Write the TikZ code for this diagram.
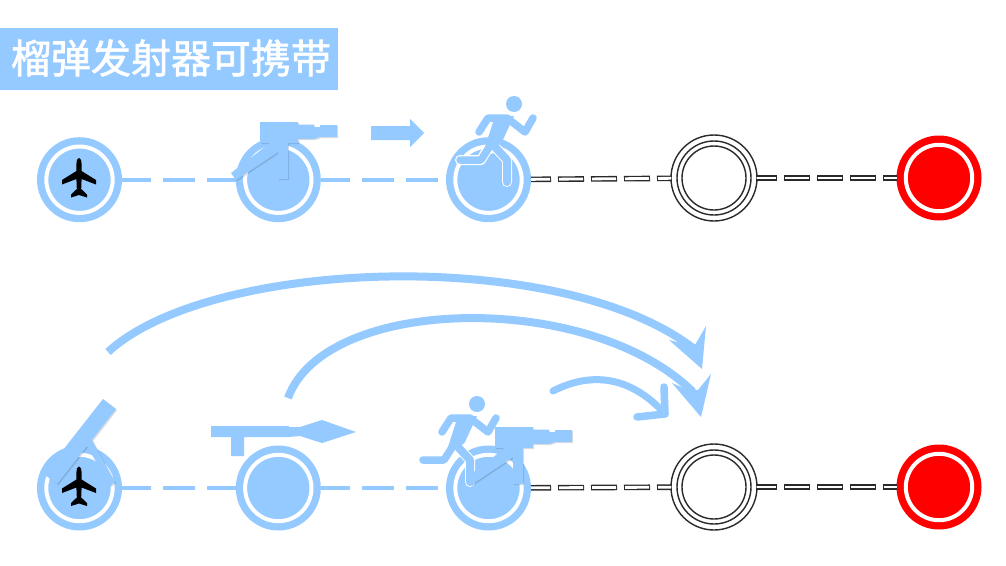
\documentclass[tikz,border=0pt]{standalone}
\usepackage{fontspec}
\newfontfamily\cjk{Noto Sans CJK SC}[FakeBold=1.6]
\definecolor{skyb}{HTML}{94CAFF}
\definecolor{ringk}{HTML}{2A2A2A}
\tikzset{
  flow/.style={circle,fill=skyb,minimum size=85pt,inner sep=0pt,outer sep=0pt},
  goal/.style={circle,fill=red,minimum size=85pt,inner sep=0pt,outer sep=0pt},
  dbl/.style={circle,draw=ringk,fill=white,line width=1.4pt,minimum size=86pt,inner sep=0pt,outer sep=0pt},
  ringw/.style={draw=white,line width=4pt},
  ringk/.style={draw=ringk,line width=1.4pt},
  bluedash/.style={skyb,line width=4pt,dash pattern=on 32pt off 12pt,dash phase=3pt},
  kout/.style={ringk,line width=5.6pt,dash pattern=on 26pt off 7pt,dash phase=6pt},
  kin/.style={white,line width=2.8pt,dash pattern=on 24pt off 9pt,dash phase=5pt},
  curve/.style={skyb,line width=8pt},
  soft/.style={black,opacity=.13},
}
\newcommand{\gunpath}{(260,122) -- (298,122) -- (298,124.5) -- (314,124.5) -- (314,127) -- (320,127) -- (320,125) -- (337,125) -- (337,137) -- (320,137) -- (314,139) -- (298,139) -- (298,143) -- (288,143) -- (288,179) -- (278,179) -- (278,152) -- (236,180) -- (231,173) -- (270,143) -- (260,143) -- cycle}
\newcommand{\mortarpath}{(103,399) -- (116,409) -- (92,440) -- (115,482) -- (110,486) -- (87,446) -- (57,484) -- (44,474) -- (63,450) -- cycle}
\newcommand{\planeicon}[1]{\fill[black,shift={(#1)}] (0,-22) .. controls (2,-22) and (2.6,-19) .. (2.6,-16) -- (2.6,-9) -- (17,0) -- (17,4.5) -- (2.6,-1) -- (2.2,9) -- (8,14.5) -- (8,17.5) -- (0,15) -- (-8,17.5) -- (-8,14.5) -- (-2.2,9) -- (-2.6,-1) -- (-17,4.5) -- (-17,0) -- (-2.6,-9) -- (-2.6,-16) .. controls (-2.6,-19) and (-2,-22) .. (0,-22) -- cycle;}
\newcommand{\runnericon}{%
  \fill[skyb] (514,104) circle (8);
  \draw[white,line width=10pt,line cap=round,line join=round] (507,182) -- (507,160) -- (495,147) -- (487,150) -- (481,160) -- (460,160);
  \draw[skyb,line width=8pt,line cap=round,line join=round] (507,182) -- (507,160) -- (495,147);
  \draw[skyb,line width=7.5pt,line cap=round,line join=round] (490,146) -- (481,160) -- (460,160);
  \draw[skyb,line width=7.5pt,line cap=round,line join=round] (479,132) -- (488,118) -- (507,118) -- (525,132) -- (533,118);
  \fill[skyb] (495,116) -- (514,116) -- (501.5,143) -- (493,149) -- (484,150) -- cycle;
}
\begin{document}
\begin{tikzpicture}[x=1pt,y=-1pt]
\useasboundingbox (0,0) rectangle (1006,565);
\fill[white] (0,0) rectangle (1006,565);

% title
\node[fill=skyb,anchor=north west,minimum width=338pt,minimum height=62pt,inner sep=0pt,outer sep=0pt] (title) at (0,28) {};
\node[text=white,font=\cjk\fontsize{40}{44}\selectfont,inner sep=0pt] (titletext) at (171,58) {榴弹发射器可携带};

% nodes, top row
\node[flow] (a1) at (79.5,179.7) {};
\node[flow] (a2) at (278.3,179.7) {};
\node[flow] (a3) at (488.5,179.7) {};
\node[dbl]  (a4) at (714,178) {};
\node[goal] (a5) at (939,178) {};
% nodes, bottom row
\node[flow] (b1) at (79.5,488) {};
\node[flow] (b2) at (278.3,488) {};
\node[flow] (b3) at (488.5,488) {};
\node[dbl]  (b4) at (714,487) {};
\node[goal] (b5) at (939,487) {};

% connectors
\foreach \u/\v in {a1/a2,a2/a3,b1/b2,b2/b3} \draw[bluedash] (\u) -- (\v);
\foreach \u/\v in {a3/a4,a4/a5,b3/b4,b4/b5} {
  \draw[kout] (\u) -- (\v);
  \draw[kin] (\u) -- (\v);
}

% rings
\foreach \n in {a1,a2,a3,b1,b2,b3,a5,b5} \draw[ringw] (\n.center) circle (33.2);
\foreach \n in {a4,b4} {\draw[ringk] (\n.center) circle (37); \draw[ringk] (\n.center) circle (32);}

% top row icons
\planeicon{79,180}
\fill[soft] [shift={(1.2,1.2)}] \gunpath;
\fill[skyb] \gunpath;
\fill[skyb] (371,126) -- (410,126) -- (410,119) -- (424,133) -- (410,147) -- (410,140) -- (371,140) -- cycle;
\runnericon

% bottom row icons
\fill[soft] [shift={(1.2,1.2)}] \mortarpath;
\fill[skyb] \mortarpath;
\planeicon{79,488.5}
\fill[skyb] (211,426) -- (289,426) -- (289,427) -- (300,427) -- (322,420) -- (356,432) -- (322,443) -- (300,436) -- (289,437) -- (244,437) -- (244,456) -- (231,456) -- (231,437) -- (211,437) -- cycle;
\begin{scope}[shift={(-37,300)}]\runnericon\end{scope}
\begin{scope}[shift={(235,305)}]
\fill[soft] [shift={(1.2,1.2)}] \gunpath;
\fill[skyb] \gunpath;
\end{scope}

% curved arrows
\coordinate (s1) at (108,352);
\coordinate (e1) at (693,348);
\coordinate (s2) at (288,398);
\coordinate (e2) at (693,392);
\coordinate (s3) at (553,391);
\coordinate (e3) at (665,414);
\draw[curve] (s1) .. controls (210,258) and (560,246) .. (e1);
\fill[skyb] (702,369) -- (706,326) -- (695,345) -- (685,344) -- (669,340) -- cycle;
\draw[curve] (s2) .. controls (325,295) and (590,290) .. (e2);
\fill[skyb] (701,417) -- (711,374) -- (698,390) -- (688,390) -- (672,383) -- cycle;
\draw[skyb,line width=7pt,line cap=round] (s3) .. controls (590,372) and (630,375) .. (e3);
\draw[skyb,line width=7.5pt,line cap=round,line join=round] (664,387) -- (e3) -- (637,417);
\end{tikzpicture}
\end{document}
